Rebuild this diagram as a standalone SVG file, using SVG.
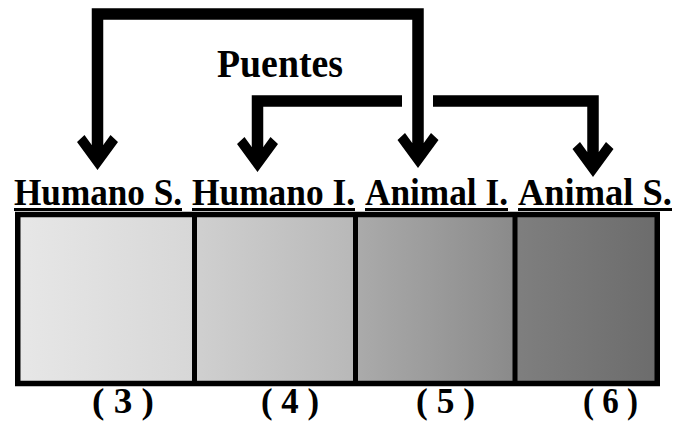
<svg xmlns="http://www.w3.org/2000/svg" width="688" height="421" viewBox="0 0 688 421">
<style>
  .t { font-family: "Liberation Serif", "Times New Roman", serif; font-weight: bold; fill: #000; }
  .lbl { font-size: 37px; }
  .num { font-size: 36px; }
  .ul { fill: #000; }
  .conn { fill: none; stroke: #000; stroke-width: 11.5; stroke-linejoin: miter; stroke-linecap: butt; }
  .border { fill: none; stroke: #000; stroke-width: 5.5; }
  .div { stroke: #000; stroke-width: 5; }
</style>
<defs>
  <marker id="ah" markerUnits="userSpaceOnUse" markerWidth="50" markerHeight="50" viewBox="-15 -25 50 50" refX="0" refY="0" orient="auto-start-reverse">
    <path d="M24,0 L-4,-20.5 L-11,-13 L-1,-5.75 L-1,5.75 L-11,13 L-4,20.5 Z" fill="#000"/>
  </marker>
  <linearGradient id="g1" x1="0" y1="0" x2="1" y2="0"><stop offset="0" stop-color="#e7e7e7"/><stop offset="1" stop-color="#d7d7d7"/></linearGradient>
  <linearGradient id="g2" x1="0" y1="0" x2="1" y2="0"><stop offset="0" stop-color="#d0d0d0"/><stop offset="1" stop-color="#b8b8b8"/></linearGradient>
  <linearGradient id="g3" x1="0" y1="0" x2="1" y2="0"><stop offset="0" stop-color="#ababab"/><stop offset="1" stop-color="#8a8a8a"/></linearGradient>
  <linearGradient id="g4" x1="0" y1="0" x2="1" y2="0"><stop offset="0" stop-color="#7f7f7f"/><stop offset="1" stop-color="#6c6c6c"/></linearGradient>
</defs>
<rect width="688" height="421" fill="#fff"/>

<g id="puentes">
  <text class="t" x="217" y="77" font-size="39" textLength="126" lengthAdjust="spacingAndGlyphs">Puentes</text>
</g>

<g id="humano-s">
  <rect x="17.75" y="214.5" width="176.75" height="169" fill="url(#g1)"/>
  <text class="t lbl" x="14" y="205" textLength="168" lengthAdjust="spacingAndGlyphs">Humano S.</text>
  <rect class="ul" x="14" y="208" width="168" height="3"/>
  <text class="t num" x="92" y="413" textLength="62" lengthAdjust="spacingAndGlyphs">( 3 )</text>
</g>

<g id="humano-i">
  <rect x="194.5" y="214.5" width="161" height="169" fill="url(#g2)"/>
  <text class="t lbl" x="192" y="205" textLength="163" lengthAdjust="spacingAndGlyphs">Humano I.</text>
  <rect class="ul" x="192" y="208" width="163" height="3"/>
  <text class="t num" x="261" y="413" textLength="58" lengthAdjust="spacingAndGlyphs">( 4 )</text>
</g>

<g id="animal-i">
  <rect x="355.5" y="214.5" width="159.5" height="169" fill="url(#g3)"/>
  <text class="t lbl" x="365" y="205" textLength="143" lengthAdjust="spacingAndGlyphs">Animal I.</text>
  <rect class="ul" x="365" y="208" width="143" height="3"/>
  <text class="t num" x="416" y="413" textLength="59" lengthAdjust="spacingAndGlyphs">( 5 )</text>
</g>

<g id="animal-s">
  <rect x="515" y="214.5" width="142.25" height="169" fill="url(#g4)"/>
  <text class="t lbl" x="518" y="205" textLength="154" lengthAdjust="spacingAndGlyphs">Animal S.</text>
  <rect class="ul" x="518" y="208" width="154" height="3"/>
  <text class="t num" x="583" y="413" textLength="55" lengthAdjust="spacingAndGlyphs">( 6 )</text>
</g>

<g id="frame">
  <rect class="border" x="17.75" y="214.5" width="639.5" height="169"/>
  <line class="div" x1="194.5" y1="214" x2="194.5" y2="384"/>
  <line class="div" x1="355.5" y1="214" x2="355.5" y2="384"/>
  <line class="div" x1="515" y1="214" x2="515" y2="384"/>
</g>

<g id="connectors">
  <path class="conn" d="M97.5,146 V14 H418 V144" marker-start="url(#ah)" marker-end="url(#ah)"/>
  <path class="conn" d="M402,101 H257.5 V148" marker-end="url(#ah)"/>
  <path class="conn" d="M433,101 H593 V153" marker-end="url(#ah)"/>
</g>
</svg>
